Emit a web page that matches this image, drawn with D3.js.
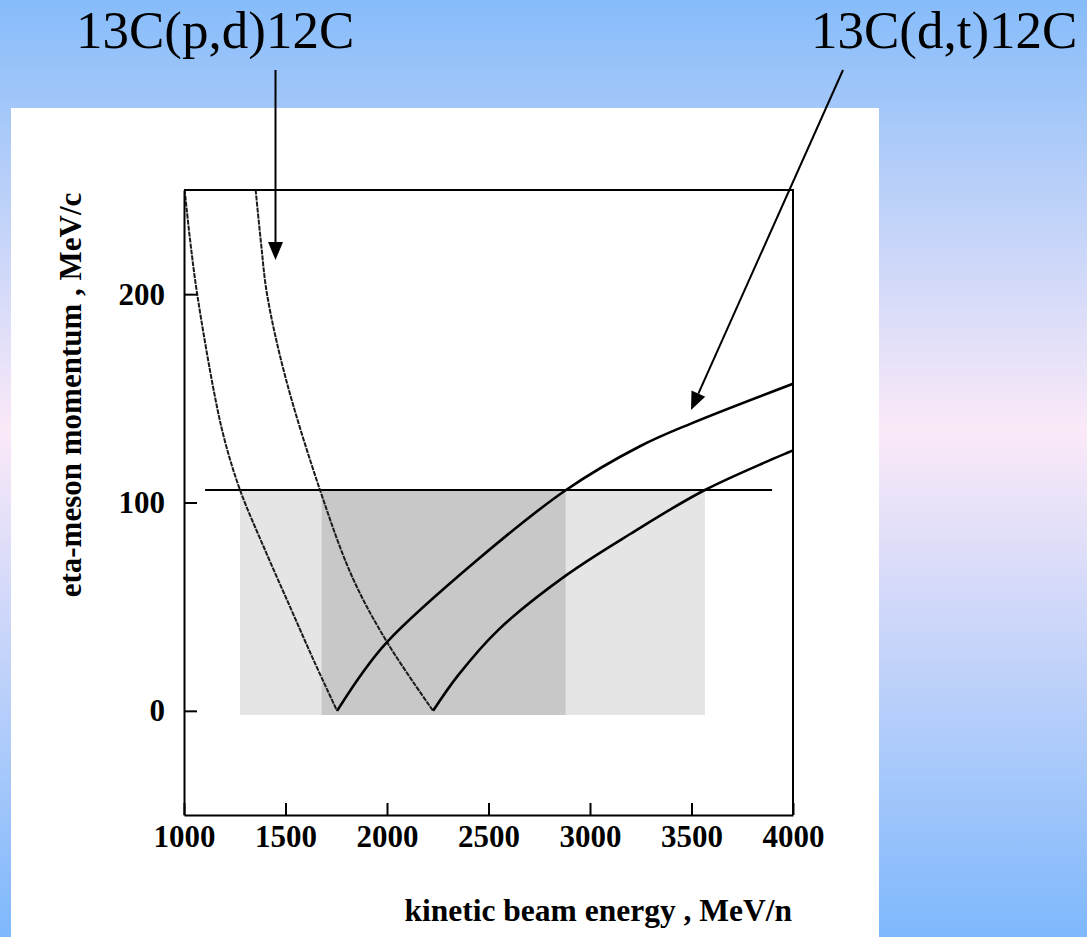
<!DOCTYPE html>
<html>
<head>
<meta charset="utf-8">
<script src="https://cdn.jsdelivr.net/npm/d3@7"></script>
<style>
  body { margin: 0; overflow: hidden; }
  svg text { font-family: "Liberation Serif", "Times New Roman", serif; }
  .axis text { font-weight: bold; font-size: 31px; fill: #000; }
  .axis path, .axis line { stroke: #000; stroke-width: 2; }
</style>
</head>
<body>
<svg width="1087" height="937"></svg>
<script>
// eta-meson momentum vs kinetic beam energy
const energyTicks = [1000, 1500, 2000, 2500, 3000, 3500, 4000];
const momentumTicks = [0, 100, 200];

// 13C(d,t)12C  (min near 1754 MeV/n)
const dtLow  = [[1000,253],[1030,226],[1065,200],[1150,152],[1200,130],[1276,106],[1400,77],[1522,50],[1640,24],[1754,0]];
const dtHigh = [[1754,0],[1870,17],[2000,33],[2440,72],[2882,106],[3246,127],[3500,138],[4000,157]];
// 13C(p,d)12C  (min near 2227 MeV/n)
const pdLow  = [[1350,253],[1380,224],[1409,200],[1500,160],[1670,106],[1830,64],[2000,33],[2227,0]];
const pdHigh = [[2227,0],[2350,17],[2550,39],[2882,65],[3200,85],[3566,106],[4000,125]];

const lightBand = [1276, 3566];
const darkBand  = [1678, 2880];
const bandMomentum = [-2, 106];
const cutLine = [1104, 3897];   // horizontal line at 106 MeV/c

const labels = ["13C(p,d)12C", "13C(d,t)12C"];

let svg = d3.select("svg"),
    width = +svg.attr("width"),
    height = +svg.attr("height");

// background
let defs = svg.append("defs");
let grad = defs.append("linearGradient").attr("id", "bg")
    .attr("x1", 0).attr("y1", 0).attr("x2", 0).attr("y2", 1);
grad.append("stop").attr("offset", "0%").attr("stop-color", "#86bcfa");
grad.append("stop").attr("offset", "46%").attr("stop-color", "#fbe9f8");
grad.append("stop").attr("offset", "100%").attr("stop-color", "#7eb8fc");
svg.append("rect").attr("width", width).attr("height", height).attr("fill", "url(#bg)");

// white panel
svg.append("rect").attr("x", 11).attr("y", 108).attr("width", 868).attr("height", height - 108)
    .attr("fill", "#fff");

let x = d3.scaleLinear().domain([1000, 4000]).range([184, 793]);
let y = d3.scaleLinear().domain([-50, 250]).range([815, 190]);

defs.append("clipPath").attr("id", "plot")
  .append("rect").attr("x", x(1000)).attr("y", y(250))
    .attr("width", x(4000) - x(1000)).attr("height", y(-50) - y(250));

// shaded bands
svg.append("rect")
    .attr("x", x(lightBand[0])).attr("width", x(lightBand[1]) - x(lightBand[0]))
    .attr("y", y(bandMomentum[1])).attr("height", y(bandMomentum[0]) - y(bandMomentum[1]))
    .attr("fill", "#e5e5e5");
svg.append("rect")
    .attr("x", x(darkBand[0])).attr("width", x(darkBand[1]) - x(darkBand[0]))
    .attr("y", y(bandMomentum[1])).attr("height", y(bandMomentum[0]) - y(bandMomentum[1]))
    .attr("fill", "#c8c8c8");

svg.append("line")
    .attr("x1", x(cutLine[0])).attr("x2", x(cutLine[1]))
    .attr("y1", y(bandMomentum[1])).attr("y2", y(bandMomentum[1]))
    .attr("stroke", "#000").attr("stroke-width", 2);

// curves
let line = d3.line()
    .x(function(d) { return x(d[0]); })
    .y(function(d) { return y(d[1]); })
    .curve(d3.curveCatmullRom.alpha(0.5));

let curves = svg.append("g").attr("clip-path", "url(#plot)");
[dtLow, pdLow].forEach(function(c) {
  curves.append("path").datum(c).attr("d", line)
      .attr("fill", "none").attr("stroke", "#1a1a1a")
      .attr("stroke-width", 2).attr("stroke-dasharray", "5,1");
});
[dtHigh, pdHigh].forEach(function(c) {
  curves.append("path").datum(c).attr("d", line)
      .attr("fill", "none").attr("stroke", "#000")
      .attr("stroke-width", 2.6);
});

// axes
svg.append("g").attr("class", "axis")
    .attr("transform", "translate(0," + y(-50) + ")")
    .call(d3.axisBottom(x).tickValues(energyTicks).tickFormat(d3.format("d"))
      .tickSizeInner(-12).tickSizeOuter(0).tickPadding(10));

svg.append("g").attr("class", "axis")
    .attr("transform", "translate(" + x(1000) + ",0)")
    .call(d3.axisLeft(y).tickValues(momentumTicks).tickFormat(d3.format("d"))
      .tickSizeInner(-13).tickSizeOuter(0).tickPadding(19));

// top and right border
svg.append("path")
    .attr("d", "M" + x(1000) + "," + y(250) + "H" + x(4000) + "V" + y(-50))
    .attr("fill", "none").attr("stroke", "#000").attr("stroke-width", 2);

// axis titles
svg.append("text")
    .attr("x", 792).attr("y", 921)
    .attr("text-anchor", "end")
    .style("font-weight", "bold").style("font-size", "31.5px")
    .text("kinetic beam energy , MeV/n");

svg.append("text")
    .attr("transform", "translate(81,395) rotate(-90)")
    .attr("text-anchor", "middle")
    .style("font-weight", "bold").style("font-size", "31px")
    .text("eta-meson momentum , MeV/c");

// reaction labels
svg.append("text").attr("x", 76).attr("y", 48)
    .style("font-size", "53px").text(labels[0]);
svg.append("text").attr("x", 811).attr("y", 48)
    .style("font-size", "53px").text(labels[1]);

// arrows
function arrow(x0, y0, x1, y1) {
  let a = Math.atan2(y1 - y0, x1 - x0), len = 18, hw = 7.5;
  let bx = x1 - len * Math.cos(a), by = y1 - len * Math.sin(a);
  svg.append("line").attr("x1", x0).attr("y1", y0).attr("x2", bx).attr("y2", by)
      .attr("stroke", "#000").attr("stroke-width", 2);
  svg.append("path")
      .attr("d", "M" + x1 + "," + y1 +
        "L" + (bx + hw * Math.sin(a)) + "," + (by - hw * Math.cos(a)) +
        "L" + (bx - hw * Math.sin(a)) + "," + (by + hw * Math.cos(a)) + "Z")
      .attr("fill", "#000");
}
arrow(275.5, 70, 275.5, 260);
arrow(843, 70, 691, 410);
</script>
</body>
</html>
